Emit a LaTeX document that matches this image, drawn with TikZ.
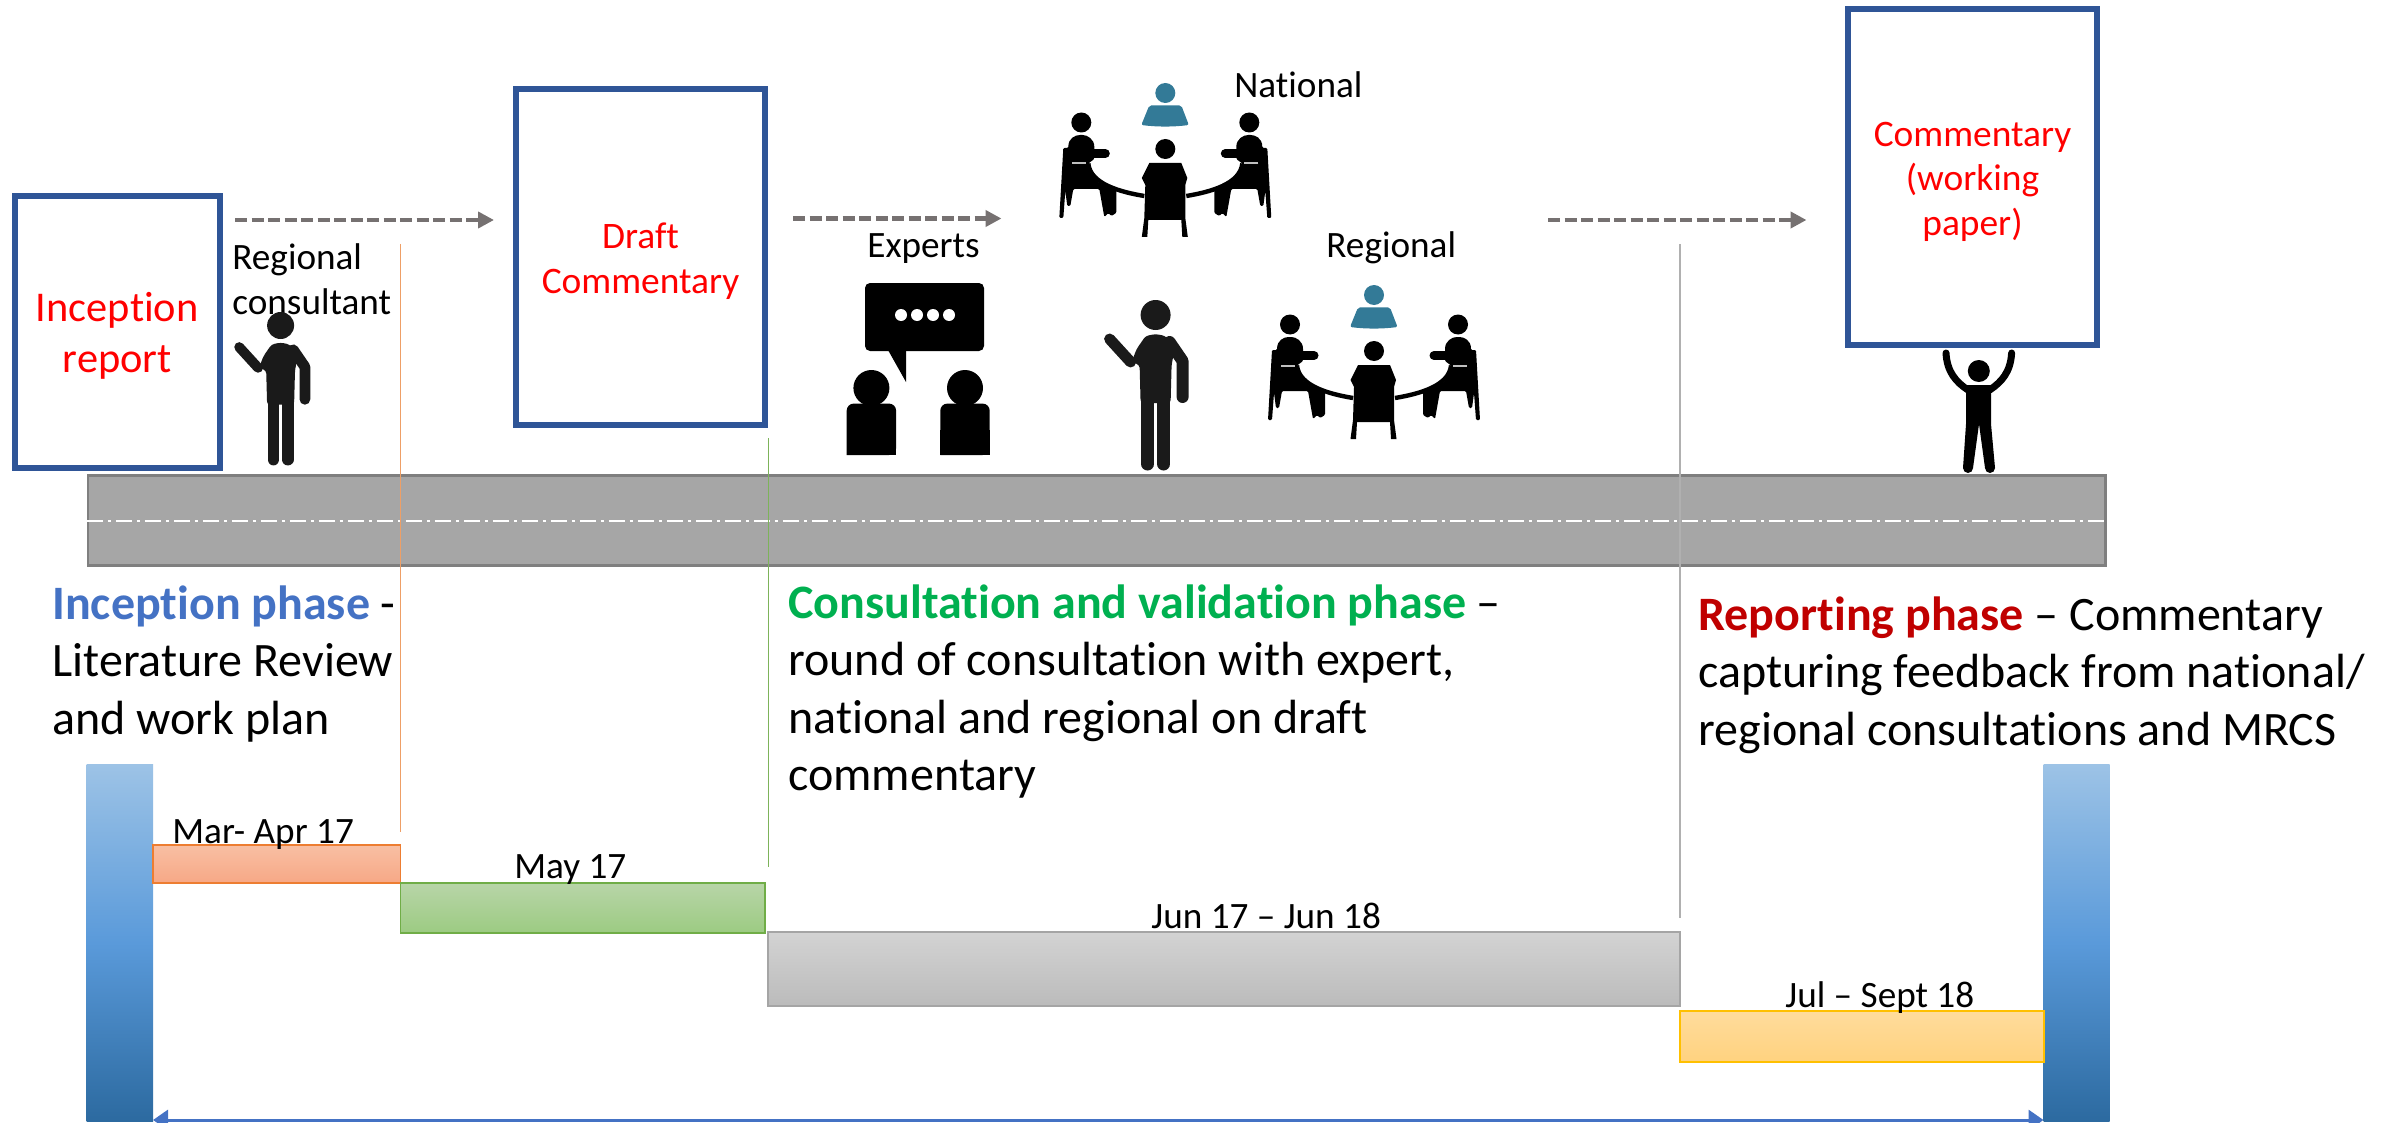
\documentclass[tikz,border=0pt]{standalone}
\usepackage{fontspec}
\setmainfont[Ligatures=NoCommon]{Carlito}
\usetikzlibrary{arrows.meta}
\definecolor{boxblue}{HTML}{2F5597}
\definecolor{arrowgrey}{HTML}{767171}
\definecolor{roadfill}{HTML}{A6A6A6}
\definecolor{roadedge}{HTML}{7F7F7F}
\definecolor{teal1}{HTML}{337A97}
\definecolor{figblack}{HTML}{1A1A1A}
\definecolor{incblue}{HTML}{4472C4}
\definecolor{congreen}{HTML}{00B050}
\definecolor{repred}{HTML}{C00000}
\definecolor{sidebartop}{HTML}{9DC3E6}
\definecolor{sidebarmid}{HTML}{5A9ADA}
\definecolor{sidebarbot}{HTML}{2C6AA0}
\definecolor{orline}{HTML}{EE9F66}
\definecolor{grline}{HTML}{7DB35A}
\definecolor{gyline}{HTML}{B0B0B0}
\definecolor{oredge}{HTML}{ED7D31}\definecolor{ortop}{HTML}{F8BFA3}\definecolor{orbot}{HTML}{F7A886}
\definecolor{gnedge}{HTML}{70AD47}\definecolor{gntop}{HTML}{B8D5A8}\definecolor{gnbot}{HTML}{9CCB82}
\definecolor{gyedge}{HTML}{A5A5A5}\definecolor{gytop}{HTML}{D3D3D3}\definecolor{gybot}{HTML}{BBBBBB}
\definecolor{yeedge}{HTML}{FFC000}\definecolor{yetop}{HTML}{FFDC9C}\definecolor{yebot}{HTML}{FFD27F}
\tikzset{
  docbox/.style={draw=boxblue,line width=3pt,fill=white,inner sep=0pt,align=center,text=red},
  road/.style={draw=roadedge,line width=1.25pt,fill=roadfill,inner sep=0pt},
  sidebar/.style={inner sep=0pt,top color=sidebartop,bottom color=sidebarbot,middle color=sidebarmid},
  phasebar/.style={draw=#1edge,line width=0.75pt,inner sep=0pt,top color=#1top,bottom color=#1bot},
  flowarrow/.style={draw=arrowgrey,line width=2.2pt,dash pattern=on 6pt off 2.25pt,
     -{Triangle[length=8pt,width=8pt,fill=arrowgrey]}},
  guide/.style={line width=0.7pt},
  spanarrow/.style={draw=incblue,line width=1.5pt,{Triangle[length=7.5pt,width=10pt]}-{Triangle[length=7.5pt,width=10pt]}},
  smalltext/.style={inner sep=0pt,anchor=base west,font=\fontsize{18.6}{22.5}\selectfont},
  datelabel/.style={inner sep=0pt,anchor=base west,font=\fontsize{18.6}{22}\selectfont},
  phasetext/.style={inner sep=0pt,anchor=north west,align=left,font=\fontsize{24}{28.8}\selectfont},
}
\newcommand\presenterfig[3]{%
\begin{scope}[shift={(#1,#2)},scale=#3]
  \fill[figblack] (0,0) circle[radius=15];
  \fill[figblack,rounded corners=1.5pt] (-24,47) -- (-19,34) -- (-10,21) -- (0,19) -- (10,21) -- (19,34) -- (16,50) -- (15,88) -- (-15,88) -- (-16,50) -- cycle;
  \draw[figblack,line width=#3*5.5pt,line cap=round] (-46,24) -- (-25,47);
  \draw[figblack,line width=#3*6pt,line cap=round,line join=round] (14,27) -- (27,46) -- (27,82);
  \draw[figblack,line width=#3*6.5pt,line cap=round] (-8,85) -- (-8,149);
  \draw[figblack,line width=#3*6.5pt,line cap=round] (8,85) -- (8,149);
\end{scope}}
\newcommand\seatedside{%
  \fill[black] (-84,-26.5) circle[radius=10];
  \fill[black,rounded corners=0.6pt] (-102,-1) -- (-97,-1) .. controls (-97,-11) and (-90,-14) .. (-84,-14) .. controls (-78,-14) and (-71,-10) .. (-71,-1) -- (-71,10) -- (-77,14.5) .. controls (-75,33) and (-60,38) .. (-49,40) -- (-49,64) -- (-54,67) -- (-57,64) -- (-61,68) -- (-66,40) -- (-92,40) -- (-95,57) -- (-98,57) -- (-100,42) -- (-102,69) -- (-106,69) -- cycle;
  \draw[black,line width=4.5pt,line cap=round] (-80,4.5) -- (-60,4.5);
  \draw[black,line width=2.2pt] (-77,14.5) .. controls (-75,35) and (-45,43) .. (-21,47);
  \draw[lightgray,line width=1pt] (-93,14.5) -- (-79,14.5);
}
\newcommand\meetingfig[2]{%
\begin{scope}[shift={(#1,#2)}]
  \fill[teal1] (0,-56) circle[radius=10];
  \fill[teal1,rounded corners=1pt] (-16,-43.6) -- (16,-43.6) -- (23.5,-24) .. controls (8,-22) and (-8,-22) .. (-24,-24) -- cycle;
  \fill[black] (0,0) circle[radius=10];
  \fill[black] (-16,14) -- (16,14) -- (22,29) -- (20,36) -- (20,69) -- (22.5,88) -- (17,88) -- (16,71) -- (-17,71) -- (-18,88) -- (-23.5,88) -- (-21,69) -- (-20,36) -- (-23.5,29) -- cycle;
  \seatedside
  \begin{scope}[xscale=-1]\seatedside\end{scope}
\end{scope}}
\newcommand\expertperson[1]{%
\begin{scope}[shift={(#1,0)}]
  \fill[black] (0,388) ellipse[x radius=18,y radius=18];
  \fill[black,rounded corners=3.5pt] (-24.7,455) -- (-24.7,403.6) -- (24.7,403.6) -- (24.7,455) [sharp corners] -- cycle;
  \fill[black] (-24.7,430) rectangle (24.7,455);
\end{scope}}
\begin{document}
\begin{tikzpicture}[x=0.5pt,y=-0.5pt]
\useasboundingbox (0,0) rectangle (2392,1123);
% road
\node[road,minimum width=1008.8pt,minimum height=45pt] (roadway) at (1096.8,520.5) {};
\coordinate (cl1) at (roadway.west);
\coordinate (cl2) at (roadway.east);
\draw[white,line width=1pt,dash pattern=on 8pt off 2.5pt on 1.5pt off 2.5pt] (cl1) -- (cl2);
% document boxes
\node[docbox,minimum width=102.25pt,minimum height=136pt,font=\fontsize{21.2}{25.5}\selectfont] (inc) at (117.25,332) {\rule{0pt}{18.5pt}Inception\\report};
\node[docbox,minimum width=124.5pt,minimum height=167.5pt,font=\fontsize{18.7}{22.5}\selectfont] (draft) at (640.5,257) {\rule{0pt}{17pt}Draft\\Commentary};
\node[docbox,minimum width=124.5pt,minimum height=167.75pt,font=\fontsize{18.7}{22.3}\selectfont] (paper) at (1972.5,177) {\rule{0pt}{17pt}Commentary\\(working\\paper)};
% flow arrows
\coordinate (a1s) at (235,220); \coordinate (a1e) at (494,220);
\coordinate (a2s) at (793,218.5); \coordinate (a2e) at (1001.5,218.5);
\coordinate (a3s) at (1548,220); \coordinate (a3e) at (1806.5,220);
\draw[flowarrow] (a1s) -- (a1e);
\draw[flowarrow] (a2s) -- (a2e);
\draw[flowarrow] (a3s) -- (a3e);
% labels
\node[inner sep=0pt,anchor=north west,align=left,font=\fontsize{18.6}{22.5}\selectfont] (regcons) at (232,243) {Regional\\consultant};
\node[smalltext] (natl) at (1234,97.5) {National};
\node[smalltext] (exper) at (867,257.5) {Experts};
\node[smalltext] (regl) at (1326,257.5) {Regional};
% guides
\coordinate (g1a) at (400.5,244); \coordinate (g1b) at (400.5,832);
\coordinate (g2a) at (768.5,438); \coordinate (g2b) at (768.5,867);
\coordinate (g3a) at (1680,244); \coordinate (g3b) at (1680,918);
\draw[guide,draw=orline] (g1a) -- (g1b);
\draw[guide,draw=grline] (g2a) -- (g2b);
\draw[guide,draw=gyline] (g3a) -- (g3b);
% phase text
\node[phasetext] (ph1) at (52,585) {\textcolor{incblue}{\textbf{Inception phase}} -\\Literature Review\\and work plan};
\node[phasetext] (ph2) at (788,584) {\textcolor{congreen}{\textbf{Consultation and validation phase}} –\\round of consultation with expert,\\national and regional on draft\\commentary};
\node[phasetext] (ph3) at (1698,596) {\textcolor{repred}{\textbf{Reporting phase}} – Commentary\\capturing feedback from national/\\regional consultations and MRCS};
% timeline bars
\node[sidebar,minimum width=33.15pt,minimum height=178.5pt] (lbar) at (119.85,942.5) {};
\node[sidebar,minimum width=33pt,minimum height=178.5pt] (rbar) at (2076.5,942.5) {};
\node[phasebar=or,minimum width=123.75pt,minimum height=19pt] (b1) at (276.75,864) {};
\node[phasebar=gn,minimum width=182.25pt,minimum height=25pt] (b2) at (582.75,908) {};
\node[phasebar=gy,minimum width=456pt,minimum height=37pt] (b3) at (1224,969) {};
\node[phasebar=ye,minimum width=182pt,minimum height=25.5pt] (b4) at (1862,1036.5) {};
\node[datelabel] (d1) at (172,843) {Mar- Apr 17};
\node[datelabel] (d2) at (514,878) {May 17};
\node[datelabel] (d3) at (1151,928) {Jun 17 – Jun 18};
\node[datelabel] (d4) at (1785,1007) {Jul – Sept 18};
\coordinate (sp1) at (153,1120); \coordinate (sp2) at (2043.5,1120);
\draw[spanarrow] (sp1) -- (sp2);
% experts icon
\fill[black,rounded corners=2.5pt] (865,283) rectangle (984,351);
\fill[black] (888,350) -- (906,382) -- (906,350) -- cycle;
\foreach \dx in {901,917,933,949} \fill[white] (\dx,315) circle[radius=6];
\expertperson{871.4}
\expertperson{965}
% presenters
\presenterfig{280.6}{325.5}{0.9}
\presenterfig{1155.6}{315}{1}
% meetings
\meetingfig{1165.3}{149}
\meetingfig{1374}{351}
% arms-up figure
\fill[black] (1978.8,371) circle[radius=11];
\draw[black,line width=3.5pt,line cap=round] (1946,353) .. controls (1947,372) and (1956,382) .. (1968,390);
\draw[black,line width=3.5pt,line cap=round] (2011.6,353) .. controls (2010.6,372) and (2001.6,382) .. (1989.6,390);
\fill[black] (1966,385) -- (1991,385) -- (1991,424) -- (1995,468) -- (1985,468) -- (1979,424) -- (1973,468) -- (1963,468) -- (1966,424) -- cycle;
\fill[black] (1968,468) circle[radius=5];
\fill[black] (1990,468) circle[radius=5];
\end{tikzpicture}
\end{document}
